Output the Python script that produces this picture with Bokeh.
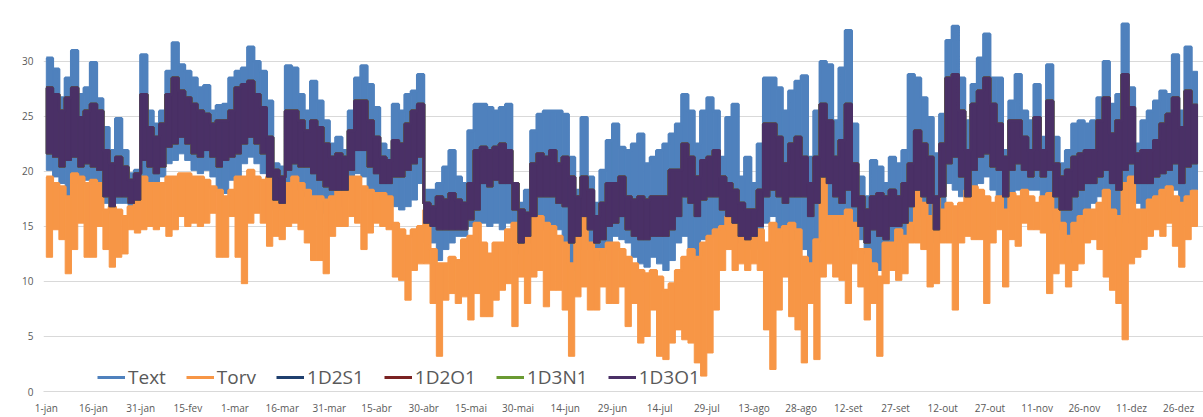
from bokeh.plotting import figure
from bokeh.models import ColumnDataSource, Range1d, FixedTicker, Legend, LegendItem
from bokeh.embed import file_html
from bokeh.resources import INLINE

# ---- x axis ticks (day of year, leap year) ----
tick_days = [0, 15, 30, 45, 60, 75, 90, 105, 120, 135, 150, 165, 180, 195, 210,
             225, 240, 255, 270, 285, 300, 315, 330, 345, 360]
tick_labels = ["1-jan", "16-jan", "31-jan", "15-fev", "1-mar", "16-mar", "31-mar",
               "15-abr", "30-abr", "15-mai", "30-mai", "14-jun", "29-jun", "14-jul",
               "29-jul", "13-ago", "28-ago", "12-set", "27-set", "12-out", "27-out",
               "11-nov", "26-nov", "11-dez", "26-dez"]
y_ticks = [0, 5, 10, 15, 20, 25, 30]

# ---- readings: envelope (max / min) of hourly values per 2-day period ----
text_max = [30.3, 29.3, 26.7, 28.5, 31.0, 27.0, 27.6, 29.9, 26.6, 24.0,
            21.9, 24.8, 21.9, 19.8, 20.1, 30.6, 25.5, 24.3, 25.5, 29.1,
            31.7, 29.7, 29.1, 28.5, 27.6, 27.8, 25.5, 26.0, 26.1, 28.5,
            29.1, 29.4, 31.3, 30.0, 29.1, 26.4, 20.7, 20.4, 29.6, 29.4,
            27.0, 25.5, 28.2, 26.4, 24.6, 22.5, 23.1, 21.9, 25.5, 28.5,
            29.6, 27.9, 25.8, 22.5, 21.9, 26.1, 25.5, 27.0, 27.3, 28.8,
            18.3, 18.3, 18.9, 20.4, 21.9, 19.5, 18.9, 23.7, 26.1, 26.1,
            25.8, 25.5, 25.8, 26.1, 18.9, 17.1, 18.3, 23.7, 25.2, 25.5,
            25.5, 25.5, 25.2, 21.3, 18.3, 24.9, 19.5, 17.1, 20.1, 22.8,
            24.3, 22.2, 21.9, 22.5, 23.4, 20.7, 21.3, 21.9, 22.5, 23.4,
            24.3, 27.0, 25.5, 22.5, 25.5, 26.7, 25.5, 21.3, 24.9, 26.1,
            19.5, 21.3, 18.9, 22.5, 28.5, 28.5, 27.6, 25.5, 27.3, 28.2,
            28.7, 21.3, 25.5, 30.0, 29.7, 24.6, 29.4, 32.8, 24.3, 19.5,
            17.7, 21.0, 20.4, 18.9, 21.3, 20.7, 21.9, 28.8, 28.5, 26.7,
            24.9, 21.6, 25.2, 31.9, 33.2, 28.5, 24.6, 27.9, 30.3, 32.5,
            28.5, 28.5, 21.9, 26.4, 28.8, 25.5, 24.6, 27.9, 23.1, 29.7,
            23.1, 20.7, 21.9, 24.3, 24.6, 24.3, 24.6, 26.7, 30.0, 26.1,
            27.0, 33.4, 27.6, 22.5, 24.6, 25.5, 26.4, 27.3, 27.0, 30.6,
            25.5, 31.3, 29.1]
text_min = [20.1, 19.5, 18.9, 17.7, 19.5, 18.9, 19.2, 18.9, 18.6, 17.1,
            16.2, 17.1, 17.1, 16.9, 17.1, 18.9, 18.9, 18.9, 19.5, 20.7,
            21.0, 21.6, 21.0, 20.1, 19.8, 20.1, 19.5, 18.3, 18.0, 19.2,
            19.5, 20.7, 21.3, 20.7, 19.8, 18.0, 16.5, 16.5, 18.6, 18.6,
            18.3, 17.7, 17.1, 16.5, 16.2, 16.5, 16.8, 17.7, 18.6, 19.8,
            19.5, 18.3, 17.7, 17.4, 16.8, 16.8, 16.5, 16.8, 17.4, 18.9,
            13.5, 13.5, 11.9, 12.9, 13.5, 14.1, 14.1, 15.0, 15.3, 15.3,
            15.0, 15.3, 14.7, 15.3, 15.3, 12.5, 13.5, 14.1, 14.7, 14.7,
            15.0, 14.7, 13.5, 11.0, 12.9, 12.9, 12.9, 11.9, 12.5, 13.5,
            14.1, 13.8, 13.5, 12.2, 11.6, 11.3, 12.2, 11.6, 11.0, 11.9,
            13.5, 14.1, 12.9, 11.9, 13.8, 14.1, 14.7, 14.7, 14.7, 14.4,
            13.5, 13.5, 12.9, 13.5, 15.3, 15.9, 14.7, 13.5, 13.8, 14.1,
            12.9, 11.6, 13.5, 15.9, 14.7, 15.3, 14.1, 15.9, 15.3, 13.8,
            12.5, 11.6, 11.0, 12.2, 13.5, 13.8, 13.5, 14.7, 15.9, 15.9,
            15.3, 13.5, 16.5, 18.9, 18.3, 17.7, 16.5, 17.7, 18.9, 19.5,
            18.3, 17.7, 16.5, 17.7, 18.3, 18.3, 18.3, 18.3, 17.7, 17.7,
            15.3, 14.7, 13.5, 14.7, 15.3, 16.5, 17.1, 17.7, 17.7, 15.3,
            14.1, 15.3, 18.3, 17.1, 16.5, 16.5, 17.7, 17.7, 18.3, 18.3,
            17.1, 17.7, 18.3]
torv_max = [19.5, 18.9, 18.6, 17.7, 19.8, 19.5, 18.9, 19.2, 18.9, 16.5,
            16.8, 16.5, 15.9, 16.8, 18.3, 19.5, 18.9, 18.9, 18.9, 19.5,
            19.5, 19.8, 19.8, 19.5, 19.5, 19.2, 18.6, 18.3, 17.7, 18.3,
            19.5, 19.5, 20.1, 19.5, 19.2, 19.5, 18.3, 17.7, 18.9, 19.5,
            18.9, 18.3, 17.7, 17.7, 17.4, 17.7, 18.9, 18.9, 19.5, 19.5,
            18.6, 18.3, 18.0, 18.0, 17.7, 15.3, 14.7, 14.1, 14.7, 15.0,
            16.5, 12.9, 11.6, 11.6, 12.2, 11.9, 13.8, 14.1, 15.3, 13.5,
            12.5, 13.5, 13.5, 14.7, 15.3, 15.3, 15.3, 15.9, 15.9, 15.3,
            15.0, 14.1, 13.5, 11.6, 16.5, 16.5, 13.5, 12.9, 12.9, 13.5,
            13.5, 12.9, 12.2, 11.6, 11.0, 10.7, 11.0, 10.4, 9.2, 9.8,
            11.0, 12.2, 12.9, 12.2, 13.5, 14.1, 14.7, 15.0, 15.9, 15.3,
            14.1, 13.8, 14.1, 14.7, 13.5, 15.3, 14.7, 15.0, 15.3, 14.7,
            12.2, 11.6, 13.8, 19.5, 15.9, 15.9, 15.9, 16.5, 15.3, 12.9,
            12.9, 11.6, 10.4, 13.5, 13.5, 14.7, 14.1, 15.3, 18.6, 17.1,
            15.9, 17.7, 16.5, 17.1, 16.8, 17.1, 18.3, 18.6, 18.3, 17.7,
            17.1, 17.7, 16.5, 18.0, 17.7, 18.3, 17.7, 17.1, 17.7, 18.0,
            16.5, 15.3, 14.1, 15.3, 15.9, 16.5, 16.5, 17.1, 18.3, 16.5,
            15.9, 18.9, 19.5, 16.5, 16.5, 17.4, 17.7, 18.3, 18.6, 17.7,
            17.1, 17.7, 18.3]
torv_min = [12.2, 14.7, 13.8, 10.7, 12.9, 15.3, 12.2, 12.2, 15.0, 12.9,
            11.3, 12.2, 12.5, 14.7, 14.4, 14.7, 15.0, 14.7, 15.0, 14.1,
            14.7, 15.9, 15.0, 15.3, 15.0, 15.3, 16.2, 12.2, 12.2, 15.9,
            12.2, 9.8, 15.3, 16.2, 15.3, 13.2, 14.1, 13.8, 15.0, 15.3,
            14.7, 13.5, 11.9, 11.9, 10.7, 14.1, 15.0, 15.0, 15.9, 15.3,
            12.9, 14.4, 15.3, 15.0, 14.7, 10.4, 10.1, 8.3, 11.0, 11.6,
            11.6, 8.0, 3.2, 8.3, 8.9, 8.0, 8.6, 6.5, 8.9, 6.8,
            6.8, 8.3, 9.2, 9.8, 5.9, 10.4, 8.0, 10.4, 11.0, 7.7,
            9.2, 9.2, 7.4, 3.2, 8.6, 9.5, 7.4, 7.4, 9.5, 8.0,
            8.0, 9.5, 5.9, 8.0, 4.4, 5.0, 7.4, 3.2, 2.9, 4.4,
            5.6, 4.7, 4.4, 2.6, 1.4, 3.5, 7.4, 11.0, 12.9, 11.0,
            11.6, 11.0, 11.6, 11.0, 5.6, 2.0, 7.4, 10.4, 6.8, 5.6,
            2.6, 8.0, 2.9, 10.4, 11.6, 10.4, 10.1, 8.0, 11.6, 9.5,
            6.5, 8.0, 3.2, 9.8, 11.0, 10.1, 10.7, 13.5, 13.5, 12.9,
            9.5, 9.8, 13.5, 13.5, 7.4, 13.5, 14.1, 13.8, 13.8, 8.0,
            13.5, 14.7, 9.5, 13.8, 13.2, 15.3, 14.7, 14.7, 14.4, 8.9,
            10.7, 11.6, 9.5, 11.0, 11.6, 13.5, 13.8, 12.9, 10.4, 9.2,
            8.0, 4.7, 11.6, 12.2, 12.9, 14.1, 14.7, 14.1, 15.3, 13.2,
            11.3, 13.8, 15.0]
# indoor zones (the four indoor series coincide to within a line width)
d3o1_max = [27.6, 27.0, 25.5, 26.7, 27.6, 24.9, 25.5, 26.1, 25.5, 21.9,
            20.7, 21.3, 20.4, 19.2, 19.8, 27.0, 24.0, 23.1, 24.3, 27.0,
            28.5, 27.3, 26.7, 26.1, 25.5, 25.2, 24.3, 24.6, 24.6, 25.5,
            27.6, 27.9, 28.2, 27.0, 25.8, 23.1, 20.1, 19.5, 25.5, 25.5,
            24.6, 23.7, 24.6, 24.0, 22.5, 21.3, 21.6, 21.3, 23.7, 26.4,
            26.4, 24.6, 23.1, 21.3, 21.0, 22.8, 22.5, 24.3, 25.5, 26.1,
            17.1, 16.8, 17.7, 17.4, 18.0, 17.4, 17.1, 18.9, 21.9, 22.2,
            21.9, 22.2, 22.5, 21.9, 18.9, 16.5, 16.2, 20.7, 21.6, 21.3,
            21.9, 20.7, 21.3, 19.5, 17.7, 19.5, 18.3, 15.9, 17.1, 18.9,
            18.9, 19.5, 17.7, 17.4, 17.7, 17.4, 17.7, 17.7, 17.7, 20.1,
            20.1, 22.5, 21.3, 19.5, 21.0, 21.3, 21.9, 19.5, 18.9, 18.3,
            17.1, 16.5, 16.5, 18.3, 24.3, 24.3, 23.1, 20.7, 22.5, 23.1,
            21.3, 18.9, 21.3, 26.1, 24.6, 21.3, 22.8, 26.1, 20.7, 17.7,
            16.5, 17.7, 18.0, 17.7, 18.3, 17.7, 18.9, 20.7, 23.7, 22.5,
            21.3, 17.7, 22.5, 28.5, 28.8, 25.5, 21.9, 26.1, 27.3, 28.5,
            26.1, 24.3, 21.3, 24.6, 24.6, 23.1, 21.9, 24.9, 21.9, 26.4,
            20.7, 19.5, 20.1, 21.3, 21.6, 21.9, 21.9, 24.6, 26.7, 23.4,
            24.6, 28.8, 25.8, 21.6, 21.9, 21.9, 22.8, 24.3, 25.2, 26.7,
            24.0, 27.3, 26.1]
d3o1_min = [21.6, 21.3, 20.4, 21.0, 21.3, 20.4, 20.7, 20.4, 20.1, 17.7,
            16.8, 17.7, 17.7, 17.1, 17.4, 21.0, 20.4, 19.8, 20.4, 22.2,
            22.5, 23.1, 22.5, 21.6, 21.3, 21.9, 21.3, 20.4, 21.0, 21.3,
            21.6, 22.5, 23.1, 22.5, 21.6, 19.5, 17.4, 17.1, 20.1, 20.7,
            20.4, 20.4, 19.8, 19.2, 18.6, 18.3, 18.3, 18.3, 20.1, 21.9,
            21.9, 20.4, 19.8, 18.9, 18.9, 19.5, 19.5, 20.1, 20.7, 21.3,
            15.3, 15.0, 14.7, 14.7, 14.7, 14.7, 14.7, 15.6, 16.5, 18.9,
            18.6, 19.2, 18.9, 18.9, 16.5, 13.5, 14.1, 15.9, 17.7, 17.7,
            17.7, 17.1, 16.8, 13.5, 14.1, 15.9, 14.7, 13.5, 13.8, 15.0,
            15.3, 15.9, 14.7, 14.1, 13.8, 13.8, 14.1, 14.1, 14.1, 14.7,
            15.9, 17.7, 17.1, 15.9, 17.4, 17.7, 17.7, 16.5, 15.9, 15.3,
            14.1, 13.8, 14.1, 15.0, 17.7, 18.3, 17.7, 17.1, 17.7, 17.7,
            17.7, 15.9, 17.1, 19.5, 18.9, 17.7, 17.1, 18.3, 16.8, 15.0,
            13.5, 14.7, 14.1, 13.8, 15.0, 15.0, 15.3, 16.8, 18.3, 17.7,
            17.1, 14.7, 17.7, 20.7, 21.3, 19.5, 17.7, 20.1, 21.3, 21.6,
            20.4, 20.1, 17.7, 20.1, 20.7, 20.1, 19.5, 20.1, 19.5, 20.1,
            17.7, 16.5, 16.5, 17.7, 18.3, 18.9, 18.9, 19.5, 20.1, 18.9,
            18.3, 20.1, 20.7, 18.9, 18.9, 18.9, 19.5, 19.8, 20.1, 20.7,
            18.9, 20.4, 20.7]
d2s1_max, d2s1_min = d3o1_max, d3o1_min
d2o1_max, d2o1_min = d3o1_max, d3o1_min
d3n1_max, d3n1_min = d3o1_max, d3o1_min

PERIOD = 2
N_DAYS = 366
n = len(text_max)
left = [PERIOD * i for i in range(n)]
right = [min(PERIOD * (i + 1), N_DAYS) for i in range(n)]

p = figure(width=1203, height=417, output_backend="svg", toolbar_location=None,
           x_range=Range1d(-0.89, 367.9), y_range=Range1d(0, 35.08),
           min_border_left=43, min_border_right=0, min_border_top=5,
           min_border_bottom=25)
p.outline_line_color = None
p.background_fill_color = "white"
p.border_fill_color = "white"

series = [
    ("Text", text_max, text_min, "#4F81BD"),
    ("Torv", torv_max, torv_min, "#F79646"),
    ("1D2S1", d2s1_max, d2s1_min, "#1F3F6E"),
    ("1D2O1", d2o1_max, d2o1_min, "#7A2222"),
    ("1D3N1", d3n1_max, d3n1_min, "#6A9A32"),
    ("1D3O1", d3o1_max, d3o1_min, "#4A3066"),
]
items = []
for name, hi, lo, col in series:
    src = ColumnDataSource(dict(left=left, right=right, top=hi, bottom=lo))
    p.quad(left="left", right="right", top="top", bottom="bottom", source=src,
           fill_color=col, line_color=col, line_width=1)
    r = p.step(x="left", y="top", source=src, mode="after",
               line_color=col, line_width=3)
    items.append(LegendItem(label=name, renderers=[r]))

p.xgrid.visible = False
p.ygrid.ticker = FixedTicker(ticks=y_ticks)
p.ygrid.grid_line_color = "#D9D9D9"
p.ygrid.grid_line_width = 1

for ax in (p.xaxis, p.yaxis):
    ax.major_tick_out = 0
    ax.major_tick_in = 0
    ax.minor_tick_out = 0
    ax.minor_tick_in = 0
    ax.major_tick_line_color = None
    ax.minor_tick_line_color = None
    ax.major_label_text_font = "Open Sans"
    ax.major_label_text_font_size = "10px"
    ax.major_label_text_color = "#595959"

p.yaxis.ticker = FixedTicker(ticks=y_ticks)
p.yaxis.axis_line_color = None
p.yaxis.major_label_standoff = 10

p.xaxis.ticker = FixedTicker(ticks=tick_days)
p.xaxis.major_label_overrides = {d: lab for d, lab in zip(tick_days, tick_labels)}
p.xaxis.axis_line_color = "#D9D9D9"
p.xaxis.major_label_standoff = 9

legend = Legend(items=items, orientation="horizontal", location=(54, 1),
                glyph_width=28, glyph_height=20, label_height=20,
                label_standoff=3, spacing=20, padding=0, margin=0,
                border_line_color=None, background_fill_alpha=0,
                label_text_font="Open Sans", label_text_font_size="19px",
                label_text_color="#595959")
p.add_layout(legend)

open("out.html", "w").write(file_html(p, INLINE))
